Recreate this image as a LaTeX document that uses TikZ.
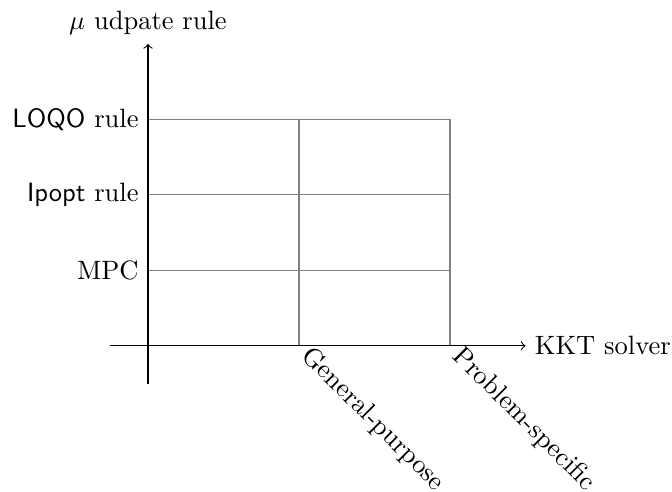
\documentclass[tikz,border=0pt]{standalone}
\begin{document}
\begin{tikzpicture}[
  axis/.style={->},
  gridline/.style={gray, thin},
  ticklabel/.style={anchor=east},
  rotlabel/.style={anchor=west, rotate=-45}
]
\useasboundingbox (-1.96,-1.93) rectangle (6.94,4.58);
\draw[gridline] (0,0) grid[xstep=2,ystep=1] (4,3);
\coordinate (xs) at (-0.5,0);
\coordinate (xe) at (5,0);
\coordinate (ys) at (0,-0.5);
\coordinate (ye) at (0,4);
\draw[axis] (xs) -- (xe) node[anchor=west] (xl) {KKT solver};
\draw[axis] (ys) -- (ye) node[anchor=south] (yl) {$\mu$ udpate rule};
\node[ticklabel] (t1) at (0,1) {MPC};
\node[ticklabel] (t2) at (0,2) {\textsf{Ipopt} rule};
\node[ticklabel] (t3) at (0,3) {\textsf{LOQO} rule};
\node[rotlabel] (g1) at (2,0) {General-purpose};
\node[rotlabel] (g2) at (4,0) {Problem-specific};
\end{tikzpicture}
\end{document}
